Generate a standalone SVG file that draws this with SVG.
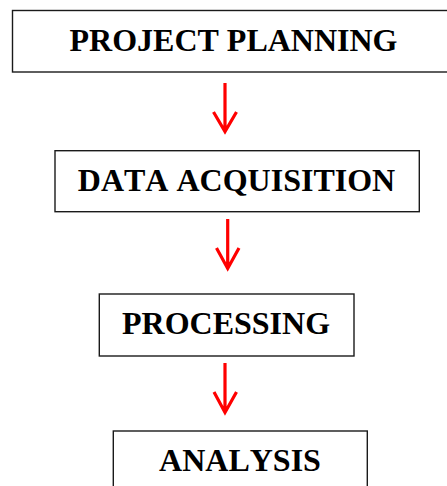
<svg xmlns="http://www.w3.org/2000/svg" width="447" height="486" viewBox="0 0 447 486">
<style>
.box{fill:#fff;stroke:#1a1a1a;stroke-width:1.4}
.lbl{font-family:"Liberation Serif","Times New Roman",serif;font-weight:bold;font-size:32px;fill:#000;text-anchor:middle;font-kerning:none}
.arr{fill:none;stroke:#f00;stroke-width:3.2;stroke-linejoin:miter;stroke-linecap:butt}
</style>
<rect width="447" height="486" fill="#fff"/>
<g id="connectors">
<path class="arr" d="M225,83 V131 M213.5,112 L225,131.5 L236.5,112"/>
<path class="arr" d="M227.7,219 V268 M216.5,248 L227.7,268.5 L239,248"/>
<path class="arr" d="M225,363 V412 M214,392 L225,412.5 L236.5,392"/>
</g>
<g id="n1"><rect class="box" x="12.5" y="10.5" width="440" height="61.5"/><text class="lbl" x="233.5" y="50.5">PROJECT PLANNING</text></g>
<g id="n2"><rect class="box" x="55" y="150.7" width="364.3" height="61"/><text class="lbl" x="236.5" y="190.7">DATA ACQUISITION</text></g>
<g id="n3"><rect class="box" x="99.3" y="294" width="254.7" height="62"/><text class="lbl" x="226" y="334.3">PROCESSING</text></g>
<g id="n4"><rect class="box" x="113.3" y="431" width="254" height="70"/><text class="lbl" x="240" y="470.7">ANALYSIS</text></g>
</svg>
